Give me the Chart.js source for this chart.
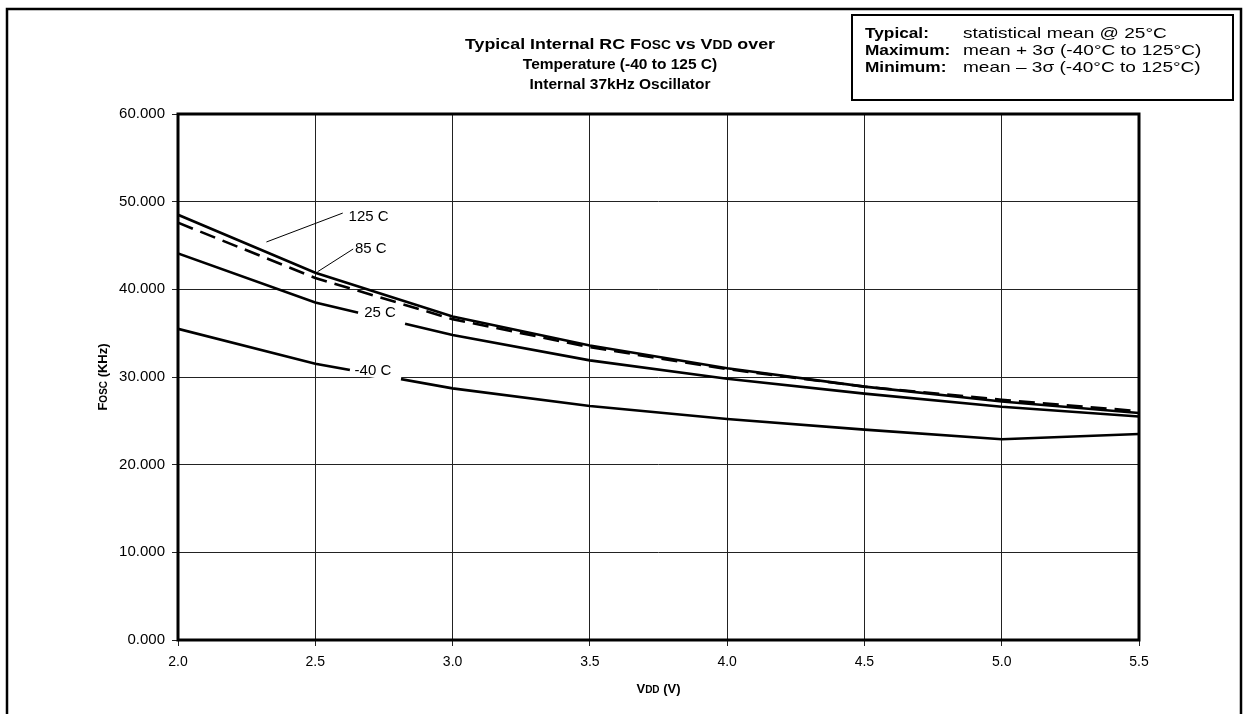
<!DOCTYPE html>
<html>
<head>
<meta charset="utf-8">
<script src="https://cdn.jsdelivr.net/npm/chart.js@4.4.0/dist/chart.umd.min.js"></script>
<style>
  html, body { margin: 0; padding: 0; background: #fff; }
  #wrap { width: 1246px; height: 714px; }
</style>
</head>
<body>
<div id="wrap"><canvas id="c" width="1246" height="714"></canvas></div>
<script>
// ---- data ----
const vdd = [2.0, 2.5, 3.0, 3.5, 4.0, 4.5, 5.0, 5.5];
const fosc125 = [48.5, 41.9, 36.9, 33.6, 31.0, 28.9, 27.2, 25.9];
const fosc85  = [47.6, 41.3, 36.6, 33.4, 30.9, 28.9, 27.4, 26.1];
const fosc25  = [44.1, 38.5, 34.8, 31.9, 29.8, 28.1, 26.6, 25.5];
const foscM40 = [35.5, 31.5, 28.7, 26.7, 25.2, 24.0, 22.9, 23.5];
const xTickLabels = ['2.0', '2.5', '3.0', '3.5', '4.0', '4.5', '5.0', '5.5'];
const yTickLabels = ['0.000', '10.000', '20.000', '30.000', '40.000', '50.000', '60.000'];
const seriesNames = ['-40 C', '25 C', '125 C', '85 C'];

const titleLines = [
  [['Typical Internal RC F', 'b'], ['OSC', 's'], [' vs V', 'b'], ['DD', 's'], [' over', 'b']],
  [['Temperature (-40 to 125 C)', 'b']],
  [['Internal 37kHz Oscillator', 'b']]
];
const titleWidths = [310, null, null];
const noteKeys = ['Typical:', 'Maximum:', 'Minimum:'];
const noteVals = ['statistical mean @ 25°C', 'mean + 3σ (-40°C to 125°C)', 'mean – 3σ (-40°C to 125°C)'];

const pts = arr => arr.map((v, i) => ({ x: vdd[i], y: v }));

// annotation placement (data coordinates)
const inlineLabels = [
  { text: '25 C',  series: fosc25,  x: 2.736, y: 37.3, gap: [2.656, 2.827] },
  { text: '-40 C', series: foscM40, x: 2.710, y: 30.7, gap: [2.626, 2.812] }
];
const leaderLabels = [
  { text: '125 C', x: 2.694, y: 48.25, from: [2.600, 48.7], to: [2.322, 45.4] },
  { text: '85 C',  x: 2.702, y: 44.6,  from: [2.638, 44.6], to: [2.508, 42.0] }
];

function interp(series, x) {
  for (let i = 0; i < vdd.length - 1; i++) {
    if (x >= vdd[i] && x <= vdd[i + 1]) {
      const t = (x - vdd[i]) / (vdd[i + 1] - vdd[i]);
      return series[i] + t * (series[i + 1] - series[i]);
    }
  }
  return series[series.length - 1];
}

const FONT = '"Liberation Sans", Arial, Helvetica, sans-serif';

function drawRich(ctx, segs, x, y, align, big, small, sx, fitW) {
  sx = sx || 1;
  const fontOf = k => (k === 's' ? 'bold ' + small + 'px ' : k === 'r' ? big + 'px ' : 'bold ' + big + 'px ') + FONT;
  let total = 0;
  const ws = segs.map(s => { ctx.font = fontOf(s[1]); const w = ctx.measureText(s[0]).width; total += w; return w; });
  if (fitW) sx = fitW / total;
  ctx.save();
  ctx.translate(x, y);
  ctx.scale(sx, 1);
  let cx = align === 'center' ? -total / 2 : align === 'right' ? -total : 0;
  ctx.textAlign = 'left';
  ctx.textBaseline = 'alphabetic';
  ctx.fillStyle = '#000';
  segs.forEach((s, i) => { ctx.font = fontOf(s[1]); ctx.fillText(s[0], cx, 0); cx += ws[i]; });
  ctx.restore();
}

const decor = {
  id: 'decor',
  beforeDraw(chart) {
    const ctx = chart.ctx;
    ctx.save();
    ctx.fillStyle = '#fff';
    ctx.fillRect(0, 0, chart.width, chart.height);
    ctx.restore();
  },
  afterDatasetsDraw(chart) {
    const ctx = chart.ctx, xs = chart.scales.x, ys = chart.scales.y;
    ctx.save();
    inlineLabels.forEach(l => {
      const x1 = xs.getPixelForValue(l.gap[0]), y1 = ys.getPixelForValue(interp(l.series, l.gap[0]));
      const x2 = xs.getPixelForValue(l.gap[1]), y2 = ys.getPixelForValue(interp(l.series, l.gap[1]));
      ctx.strokeStyle = '#fff'; ctx.lineWidth = 7; ctx.lineCap = 'butt';
      ctx.beginPath(); ctx.moveTo(x1, y1); ctx.lineTo(x2, y2); ctx.stroke();
      ctx.font = '15px ' + FONT; ctx.fillStyle = '#000';
      ctx.textAlign = 'center'; ctx.textBaseline = 'middle';
      ctx.fillText(l.text, xs.getPixelForValue(l.x), ys.getPixelForValue(l.y));
    });
    leaderLabels.forEach(l => {
      ctx.strokeStyle = '#000'; ctx.lineWidth = 1;
      ctx.beginPath();
      ctx.moveTo(xs.getPixelForValue(l.from[0]), ys.getPixelForValue(l.from[1]));
      ctx.lineTo(xs.getPixelForValue(l.to[0]), ys.getPixelForValue(l.to[1]));
      ctx.stroke();
      ctx.font = '15px ' + FONT; ctx.fillStyle = '#000';
      ctx.textAlign = 'center'; ctx.textBaseline = 'middle';
      ctx.fillText(l.text, xs.getPixelForValue(l.x), ys.getPixelForValue(l.y));
    });
    ctx.restore();
  },
  afterDraw(chart) {
    const ctx = chart.ctx, a = chart.chartArea;
    ctx.save();
    ctx.strokeStyle = '#000'; ctx.lineWidth = 3;
    ctx.strokeRect(a.left, a.top, a.right - a.left, a.bottom - a.top);
    ctx.lineWidth = 2.5;
    ctx.strokeRect(7, 9, 1234, 720);
    titleLines.forEach((segs, i) => drawRich(ctx, segs, 620, 49 + i * 20, 'center', 15.5, 12, 1, titleWidths[i]));
    ctx.lineWidth = 2;
    ctx.strokeRect(852, 15, 381, 85);
    noteKeys.forEach((k, i) => {
      drawRich(ctx, [[k, 'b']], 865, 38 + i * 17, 'left', 15, 11, 1.15);
      drawRich(ctx, [[noteVals[i], 'r']], 963, 38 + i * 17, 'left', 15, 11, 1.27);
    });
    drawRich(ctx, [['V', 'b'], ['DD', 's'], [' (V)', 'b']], (a.left + a.right) / 2, 693, 'center', 13, 10);
    ctx.save();
    ctx.translate(102, (a.top + a.bottom) / 2);
    ctx.rotate(-Math.PI / 2);
    drawRich(ctx, [['F', 'b'], ['OSC', 's'], [' (KHz)', 'b']], 0, 5, 'center', 13, 10);
    ctx.restore();
    ctx.restore();
  }
};

const lineDs = (label, arr, dash) => ({
  label, data: pts(arr), borderColor: '#000', borderWidth: 2.6, borderDash: dash || [],
  pointRadius: 0, tension: 0, fill: false, borderCapStyle: 'butt'
});

new Chart(document.getElementById('c'), {
  type: 'line',
  data: {
    datasets: [
      lineDs(seriesNames[0], foscM40),
      lineDs(seriesNames[1], fosc25),
      lineDs(seriesNames[2], fosc125),
      lineDs(seriesNames[3], fosc85, [16, 8])
    ]
  },
  options: {
    responsive: false,
    animation: false,
    devicePixelRatio: 1,
    layout: { padding: { left: 0, right: 107, top: 114, bottom: 0 } },
    plugins: { legend: { display: false }, title: { display: false }, tooltip: { enabled: false } },
    scales: {
      x: {
        type: 'linear', min: 2.0, max: 5.5,
        afterFit: s => { s.height = 74; },
        afterBuildTicks: s => { s.ticks = vdd.map(v => ({ value: v })); },
        border: { display: false },
        grid: { color: '#222', lineWidth: 1, tickLength: 6, drawTicks: true },
        ticks: {
          padding: 8, color: '#000', font: { family: FONT, size: 14 }, maxRotation: 0,
          callback: (v, i) => xTickLabels[i]
        }
      },
      y: {
        min: 0, max: 60,
        afterFit: s => { s.width = 178; },
        afterBuildTicks: s => { s.ticks = yTickLabels.map(t => ({ value: parseFloat(t) })); },
        border: { display: false },
        grid: { color: '#222', lineWidth: 1, tickLength: 6, drawTicks: true },
        ticks: {
          padding: 7, color: '#000', font: { family: FONT, size: 15 },
          callback: (v, i) => yTickLabels[i]
        }
      }
    }
  },
  plugins: [decor]
});
</script>
</body>
</html>
